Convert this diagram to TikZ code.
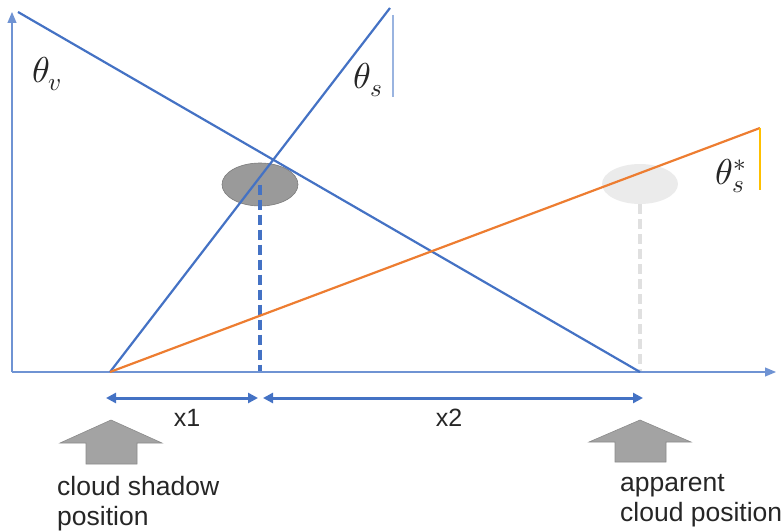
\documentclass[tikz,border=0pt]{standalone}
\usepackage{fontspec}
\usepackage{unicode-math}
\setmainfont{Liberation Sans}
\setmathfont{Latin Modern Math}
\usetikzlibrary{arrows.meta,shapes.geometric}
\definecolor{mblue}{HTML}{4472C4}
\definecolor{axblue}{HTML}{6F93D3}
\definecolor{morange}{HTML}{ED7D31}
\definecolor{myellow}{HTML}{FFC000}
\definecolor{blockgray}{HTML}{A3A3A3}
\definecolor{cloudgray}{HTML}{9A9A9A}
\definecolor{cloudlight}{HTML}{EBEBEB}
\tikzset{
  axis/.style={axblue, line width=1.1pt, -{Triangle[length=11pt,width=9pt]}},
  ray/.style={mblue, line width=2.2pt},
  dimarrow/.style={mblue, line width=3pt, {Triangle[length=10pt,width=10pt]}-{Triangle[length=10pt,width=10pt]}},
  cloud/.style={ellipse, minimum width=76pt, minimum height=43pt, inner sep=0pt},
  blockarrow/.style={fill=blockgray, draw=blockgray!85!black, line width=0.6pt},
  caption/.style={font=\fontsize{26.5}{30}\selectfont, align=left, inner sep=0pt, text=black!85},
  dimlabel/.style={font=\fontsize{25}{28}\selectfont, inner sep=0pt, text=black!85},
  anglabel/.style={font=\fontsize{36}{40}\selectfont, inner sep=0pt, text=black!85},
}
\begin{document}
\begin{tikzpicture}[x=1pt,y=-1pt]
\useasboundingbox (0,0) rectangle (782,532);
% key points
\coordinate (O) at (12,372);
\coordinate (Ytop) at (12,12);
\coordinate (Xend) at (776,372);
\coordinate (S) at (110,372);
\coordinate (A) at (640,372);
\coordinate (Vtop) at (18,12);
\coordinate (Stop) at (390,8);
\coordinate (Otop) at (760,128);
\coordinate (Vref1) at (393,15);
\coordinate (Vref2) at (393,97);
\coordinate (Yref) at (760,190);
\coordinate (Base1) at (260,372);
\coordinate (Base2) at (640,372);
\coordinate (D1) at (106,398);
\coordinate (D2) at (258,398);
\coordinate (D3) at (263,398);
\coordinate (D4) at (643,398);
% clouds
\node[cloud, fill=cloudgray, draw=cloudgray!80!black, line width=0.6pt] (c1) at (260,184.5) {};
\node[cloud, fill=cloudlight, minimum height=40pt] (c2) at (640,184) {};
% dashed verticals
\draw[mblue, line width=3.2pt, dash pattern=on 10pt off 5pt] (c1.center) -- (Base1);
\draw[black!12, line width=3.2pt, dash pattern=on 10pt off 5pt] (c2.south) -- (Base2);
% axes
\draw[axis] (O) -- (Ytop);
\draw[axis] (O) -- (Xend);
% rays
\draw[ray] (Vtop) -- (A);
\draw[ray] (S) -- (Stop);
\draw[morange, line width=2.2pt] (S) -- (Otop);
\draw[axblue!70, line width=1.2pt] (Vref1) -- (Vref2);
\draw[myellow, line width=1.2pt] (Otop) -- (Yref);
% angle labels
\node[anglabel] (tv) at (47,74) {$\theta_v$};
\node[anglabel] (ts) at (368,80) {$\theta_s$};
\node[anglabel] (tss) at (731,176) {$\theta_s^*$};
% dimension arrows
\draw[dimarrow] (D1) -- (D2);
\draw[dimarrow] (D3) -- (D4);
\node[dimlabel] (x1) at (187,418) {x1};
\node[dimlabel] (x2) at (449,418) {x2};
% block arrows
\fill[blockarrow] (111,420) -- (162,443) -- (137,443) -- (137,464) -- (86,464) -- (86,443) -- (60,443) -- cycle;
\fill[blockarrow] (640,420) -- (691,442) -- (666,442) -- (666,462) -- (615,462) -- (615,442) -- (589,442) -- cycle;
% captions
\node[caption, anchor=north west] (cap1) at (57,476) {cloud shadow\\position};
\node[caption, anchor=north west] (cap2) at (620,474) {apparent\\cloud position};
\end{tikzpicture}
\end{document}
